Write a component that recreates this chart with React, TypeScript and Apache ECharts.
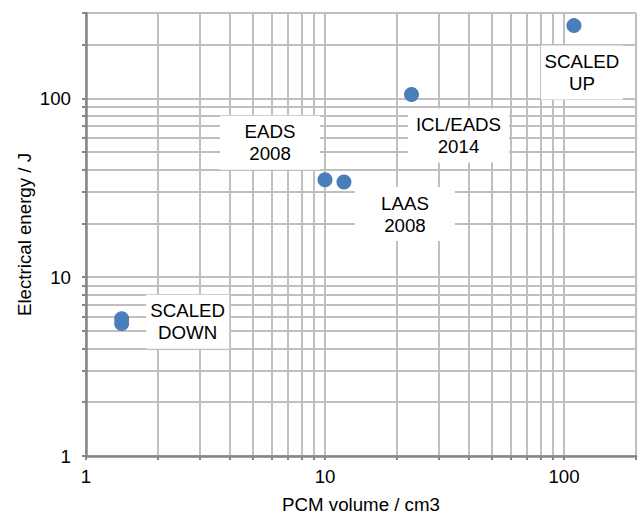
import React, { useEffect, useRef } from "react";
import * as echarts from "echarts";

// PCM volume (cm3) vs. electrical energy (J) for each device
const pointNames = ["SCALED DOWN", "SCALED DOWN", "EADS 2008", "LAAS 2008", "ICL/EADS 2014", "SCALED UP"];
const pcmVolume = [1.41, 1.41, 10, 12, 23, 110];
const electricalEnergy = [5.85, 5.5, 35, 34, 105, 255];
const labelTexts = ["SCALED\nDOWN", "", "EADS\n2008", "LAAS\n2008", "ICL/EADS\n2014", "SCALED\nUP"];

// Gridline / tick positions and labelled values on both log axes
const xGridValues = [1, 2, 3, 4, 5, 6, 7, 8, 9, 10, 20, 30, 40, 50, 60, 70, 80, 90, 100, 200];
const yGridValues = [1, 2, 3, 4, 5, 6, 7, 8, 9, 10, 20, 30, 40, 50, 60, 70, 80, 90, 100, 200, 300];
const xLabelValues = [1, 10, 100];
const yLabelValues = [1, 10, 100];

// Label box placement (offset from the marker centre, box width)
const labelLayout: Array<{ offset: [number, number]; width: number } | null> = [
  { offset: [66, 3], width: 83 },
  null,
  { offset: [-55, -37], width: 100 },
  { offset: [61, 32], width: 100 },
  { offset: [47, 41], width: 101 },
  { offset: [8, 47], width: 82 },
];

const FONT = "'Liberation Sans', Arial, sans-serif";
const TEXT = "#000000";
const GRID = "#bfbfbf";
const AXIS = "#868686";

export default function App() {
  const ref = useRef<HTMLDivElement>(null);

  useEffect(() => {
    document.body.style.margin = "0";
    if (!ref.current) return;
    const chart = echarts.init(ref.current, undefined, { renderer: "svg" });

    const data = pcmVolume.map((v, i) => {
      const lay = labelLayout[i];
      return {
        name: pointNames[i],
        value: [v, electricalEnergy[i]],
        label: lay
          ? {
              show: true,
              formatter: labelTexts[i],
              position: "inside",
              offset: lay.offset,
              width: lay.width,
              align: "center",
              verticalAlign: "middle",
              backgroundColor: "#ffffff",
              padding: [5, 0, 5, 0],
              lineHeight: 22,
              fontSize: 18.7,
              fontFamily: FONT,
              color: TEXT,
            }
          : { show: false },
      };
    });

    const axisCommon = {
      type: "log" as const,
      logBase: 10,
      nameLocation: "middle" as const,
      nameMoveOverlap: false,
      nameTextStyle: { fontSize: 18.7, fontFamily: FONT, color: TEXT },
      axisLine: { show: true, lineStyle: { color: AXIS, width: 2.5 } },
      splitLine: { show: true, lineStyle: { color: GRID, width: 2 } },
      minorTick: { show: false },
      minorSplitLine: { show: false },
    };

    chart.setOption({
      animation: false,
      backgroundColor: "#ffffff",
      grid: {
        left: 86,
        right: 2,
        top: 13,
        bottom: 58,
        containLabel: false,
        outerBoundsMode: "none",
      },
      xAxis: {
        ...axisCommon,
        min: 1,
        max: 200,
        name: "PCM volume / cm3",
        nameGap: 39,
        axisTick: {
          show: true,
          inside: false,
          length: 4,
          customValues: xGridValues,
          lineStyle: { color: AXIS, width: 2 },
        },
        axisLabel: {
          customValues: xLabelValues,
          margin: 11,
          fontSize: 18.7,
          fontFamily: FONT,
          color: TEXT,
          formatter: (v: number) => String(v),
        },
      },
      yAxis: {
        ...axisCommon,
        min: 1,
        max: 300,
        name: "Electrical energy / J",
        nameGap: 52,
        axisTick: {
          show: true,
          inside: false,
          length: 4,
          customValues: yGridValues,
          lineStyle: { color: AXIS, width: 2 },
        },
        axisLabel: {
          customValues: yLabelValues,
          margin: 15,
          fontSize: 18.7,
          fontFamily: FONT,
          color: TEXT,
          formatter: (v: number) => String(v),
        },
      },
      series: [
        {
          type: "scatter",
          symbol: "circle",
          symbolSize: 15,
          itemStyle: { color: "#4A7EBB", opacity: 1 },
          data,
        },
      ],
    });

    return () => chart.dispose();
  }, []);

  return <div ref={ref} style={{ width: 638, height: 514 }} />;
}
